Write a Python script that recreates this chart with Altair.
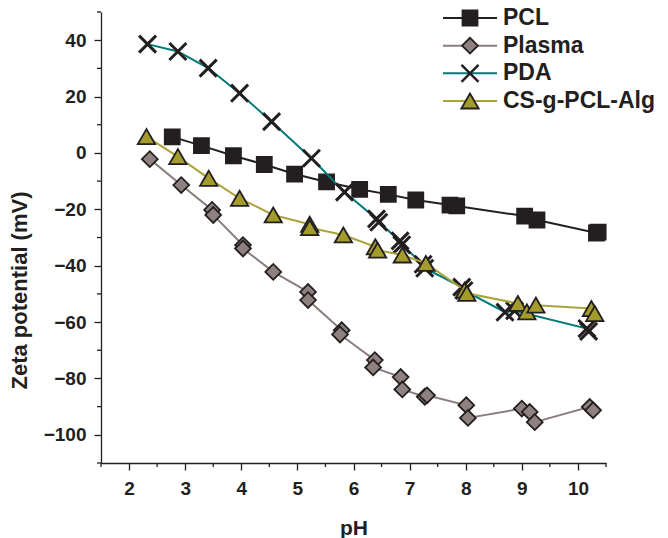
import altair as alt
import pandas as pd

FONT = "Liberation Sans"
DARK = "#231f20"

series_names = ["PCL", "Plasma", "PDA", "CS-g-PCL-Alg"]

pcl_ph = [2.77, 3.29, 3.86, 4.41, 4.95, 5.52, 6.11, 6.62, 7.11, 7.72, 7.84, 9.05, 9.27, 10.33, 10.36]
pcl_zp = [5.7, 2.6, -1.0, -4.1, -7.5, -10.3, -12.9, -14.7, -16.7, -18.5, -18.8, -22.4, -23.8, -28.4, -28.1]

plasma_ph = [2.37, 2.93, 3.48, 3.50, 4.03, 4.03, 4.57, 5.19, 5.19, 5.79, 5.76, 6.38, 6.35, 6.84, 6.87,
             7.27, 7.31, 8.01, 8.04, 9.00, 9.14, 9.23, 10.21, 10.27]
plasma_zp = [-2.2, -11.4, -20.2, -22.0, -32.7, -33.9, -42.2, -49.3, -52.2, -62.9, -64.4, -73.5, -76.1, -79.5, -83.9,
             -86.5, -86.0, -89.5, -94.0, -90.7, -91.9, -95.5, -90.1, -91.3]

pda_ph = [2.33, 2.87, 3.41, 3.97, 4.54, 5.25, 5.84, 6.41, 6.45, 6.83, 6.86, 7.24, 7.27, 7.93, 7.97, 8.70, 8.87, 10.16, 10.19]
pda_zp = [38.6, 36.0, 30.1, 21.2, 11.1, -1.9, -13.9, -23.4, -24.6, -31.2, -32.6, -39.5, -40.9, -47.6, -48.8, -56.5, -56.0, -62.3, -63.3]

alg_ph = [2.31, 2.87, 3.42, 3.97, 4.57, 5.22, 5.22, 5.82, 6.39, 6.43, 6.87, 7.29, 7.98, 8.02, 8.93, 9.09, 9.25, 10.24, 10.30]
alg_zp = [5.8, -1.3, -9.0, -16.1, -22.0, -25.3, -26.5, -29.1, -33.3, -34.5, -36.2, -39.2, -48.7, -49.8, -53.4, -56.4, -54.0, -55.2, -57.0]

x_ticks = [2, 3, 4, 5, 6, 7, 8, 9, 10]
x_minor = [1.5, 2.5, 3.5, 4.5, 5.5, 6.5, 7.5, 8.5, 9.5, 10.5]
y_ticks = [-100, -80, -60, -40, -20, 0, 20, 40]
y_minor = [-110, -90, -70, -50, -30, -10, 10, 30, 50]

line_colors = [DARK, "#8b7d7b", "#007a78", "#a8a33a"]
fill_colors = [DARK, "#8f817f", None, "#a39c2b"]
shapes = ["square", "diamond", "M-1,-1L1,1M-1,1L1,-1", "triangle-up"]
sizes = [225, 250, 290, 300]

W, H = 505, 451

xs = alt.Scale(domain=[1.5, 10.5], nice=False, zero=False)
ys = alt.Scale(domain=[-110, 50], nice=False, zero=False)

X_AX = alt.Axis(values=x_ticks, tickSize=7, grid=False, title="pH",
                labelFont=FONT, labelFontSize=19, labelFontWeight="bold", labelColor=DARK,
                titleFont=FONT, titleFontSize=21, titleFontWeight="bold", titleColor=DARK,
                domainColor=DARK, tickColor=DARK, domainWidth=1.3, tickWidth=1.3,
                labelPadding=9, titlePadding=19, labelFlush=False)
Y_AX = alt.Axis(values=y_ticks, tickSize=7, grid=False, title="Zeta potential (mV)",
                labelFont=FONT, labelFontSize=19, labelFontWeight="bold", labelColor=DARK,
                titleFont=FONT, titleFontSize=22, titleFontWeight="bold", titleColor=DARK,
                domainColor=DARK, tickColor=DARK, domainWidth=1.3, tickWidth=1.3,
                labelPadding=8, titlePadding=12, titleY=278, labelFlush=False)

datasets = [(pcl_ph, pcl_zp), (plasma_ph, plasma_zp), (pda_ph, pda_zp), (alg_ph, alg_zp)]

main_layers = []
# minor ticks
main_layers.append(
    alt.Chart(pd.DataFrame({"v": x_minor})).mark_rule(color=DARK, strokeWidth=1.3).encode(
        x=alt.X("v:Q", scale=xs, axis=X_AX), y=alt.value(H), y2=alt.value(H + 4))
)
main_layers.append(
    alt.Chart(pd.DataFrame({"v": y_minor})).mark_rule(color=DARK, strokeWidth=1.3).encode(
        y=alt.Y("v:Q", scale=ys, axis=Y_AX), x=alt.value(0), x2=alt.value(-4))
)

for k, (ph, zp) in enumerate(datasets):
    df = pd.DataFrame({"ph": ph, "zp": zp, "i": list(range(len(ph)))})
    enc = dict(x=alt.X("ph:Q", scale=xs, axis=X_AX), y=alt.Y("zp:Q", scale=ys, axis=Y_AX))
    main_layers.append(
        alt.Chart(df).mark_line(color=line_colors[k], strokeWidth=2).encode(order="i:Q", **enc)
    )
    if fill_colors[k] is None:
        pt = alt.Chart(df).mark_point(shape=shapes[k], filled=False, stroke=DARK, strokeWidth=3,
                                      size=sizes[k], opacity=1)
    else:
        pt = alt.Chart(df).mark_point(shape=shapes[k], filled=True, fill=fill_colors[k], stroke=DARK,
                                      strokeWidth=1.8, size=sizes[k], opacity=1)
    main_layers.append(pt.encode(**enc))

main = alt.layer(*main_layers)

# legend
leg_df = pd.DataFrame({"series": series_names})
leg_y = alt.Y("series:N", sort=series_names,
              scale=alt.Scale(type="point", domain=series_names, range=[6, 89], padding=0), axis=None)
leg_layers = [
    alt.Chart(leg_df).mark_rule(strokeWidth=2).encode(
        x=alt.value(342), x2=alt.value(396), y=leg_y,
        color=alt.Color("series:N", scale=alt.Scale(domain=series_names, range=line_colors), legend=None))
]
for k, name in enumerate(series_names):
    base = alt.Chart(leg_df).transform_filter(alt.datum.series == name)
    if fill_colors[k] is None:
        m = base.mark_point(shape=shapes[k], filled=False, stroke=DARK, strokeWidth=2.4, size=sizes[k], opacity=1)
    else:
        m = base.mark_point(shape=shapes[k], filled=True, fill=fill_colors[k], stroke=DARK, strokeWidth=1.8,
                            size=sizes[k], opacity=1)
    leg_layers.append(m.encode(x=alt.value(369), y=leg_y))
leg_layers.append(
    alt.Chart(leg_df).mark_text(align="left", baseline="middle", font=FONT, fontSize=23, fontWeight="bold",
                                color=DARK).encode(x=alt.value(402), y=leg_y, text="series:N")
)
legend = alt.layer(*leg_layers)

chart = alt.layer(main, legend).resolve_scale(y="independent").properties(
    width=W, height=H,
    autosize=alt.AutoSizeParams(type="none"),
    padding={"left": 101, "top": 12, "right": 62, "bottom": 75},
    background="white",
).configure_view(stroke=None)

chart.save("out.html", embed_options={"renderer": "svg", "actions": False})
